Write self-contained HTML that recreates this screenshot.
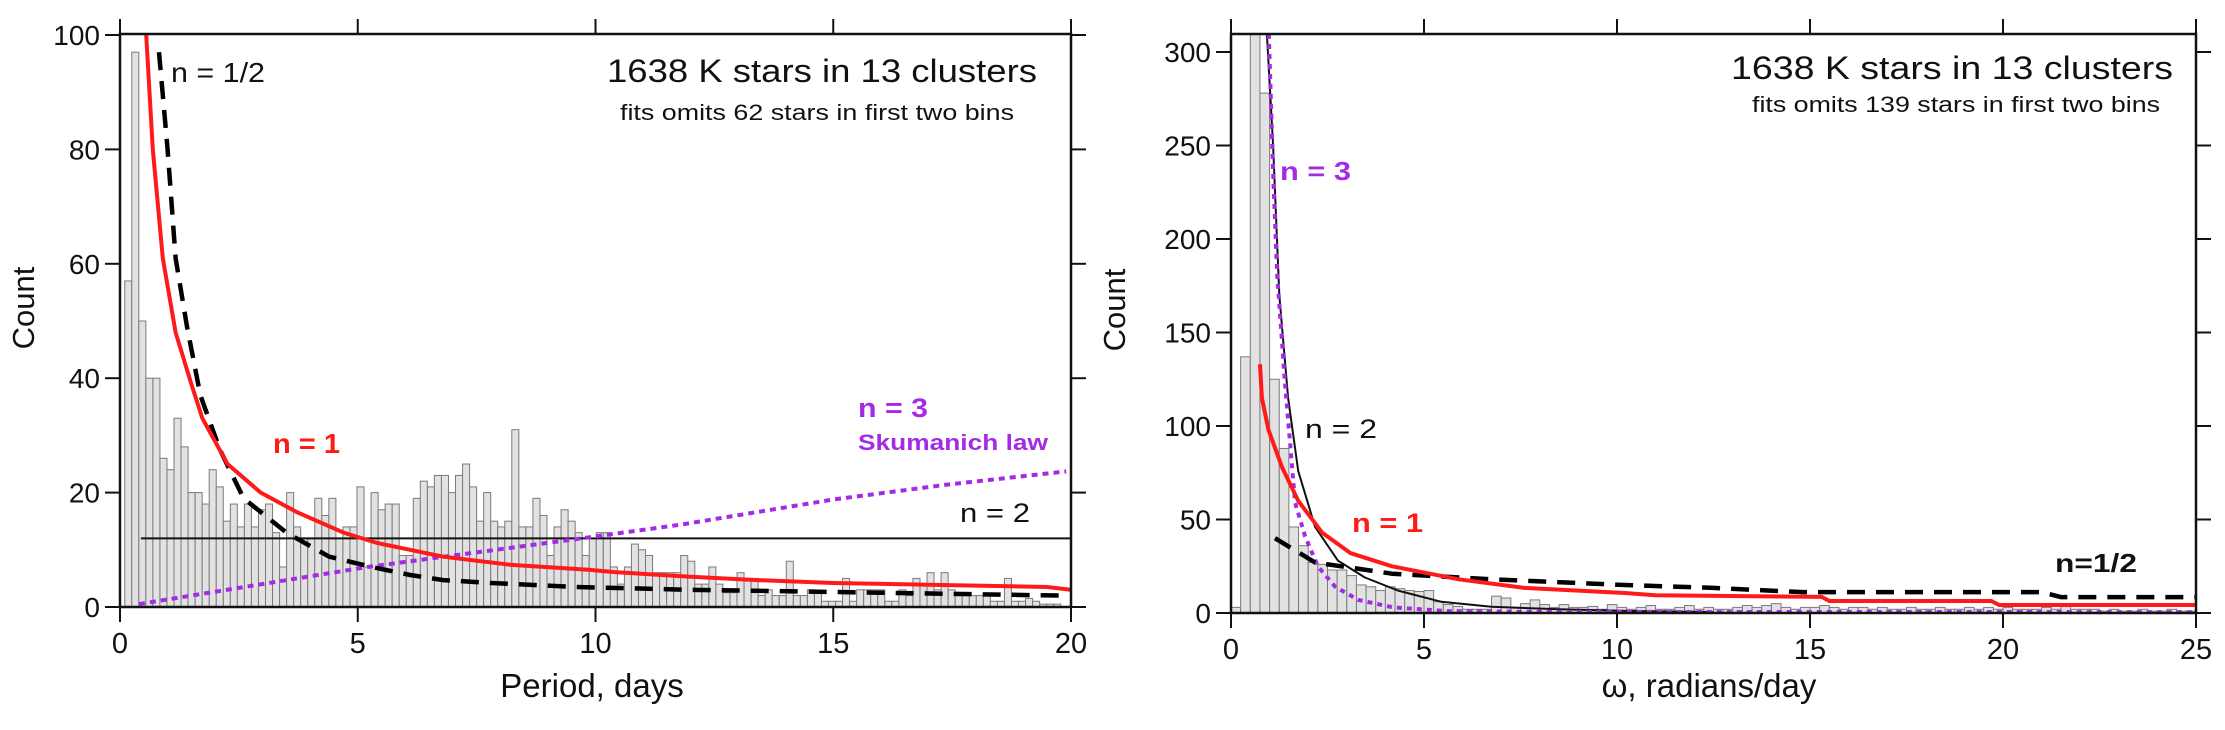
<!DOCTYPE html>
<html><head><meta charset="utf-8"><style>
html,body{margin:0;padding:0;background:#fff;}
svg{display:block;font-family:"Liberation Sans",Arial,sans-serif;}
</style></head><body>
<svg id="chart" width="2225" height="730" viewBox="0 0 2225 730" xmlns="http://www.w3.org/2000/svg">
<g id="left"></g>
<g id="right"></g>
</svg>
<script>
// ---------- LEFT PANEL DATA ----------
const leftBinStart = 0.1;
const leftBinWidth = 0.148;
const leftCounts = [57,97,50,40,40,26,24,33,28,20,20,18,24,21,15,18,14,18,14,17,18,13,7,20,14,12,12,19,16,19,12,14,14,21,7,20,17,18,18,9,9,19,22,21,23,23,20,23,25,21,15,20,15,14,15,31,14,14,19,16,9,14,17,15,13,9,
12,13,13,7,4,7,11,10,9,6,6,6,6,9,8,4,4,7,4,2.5,2.5,6,5,5,2,3,2,2,8,2,2,3,2.5,1,1,1,5,1,3,3,3,3,1,1,3,2,5,4,6,3,6,3,2,2,2,2,2,1,1,5,1,1,1.5,1,0.5,0.5,0.5];
const leftN1 = [[0.55,100],[0.69,80],[0.9,61],[1.17,48],[1.5,39],[1.73,33],[2.26,25],[2.96,20],[3.74,16.5],[4.7,13],[5.4,11.2],[6.8,8.8],[8.2,7.4],[9.85,6.5],[10.4,6.1],[12,5.3],[13.4,4.7],[15,4.2],[17,3.9],[19.5,3.5],[20,3]];
const leftNhalf = [[0.82,97],[1.0,80],[1.17,61],[1.41,49],[1.69,37],[2.1,27.5],[2.6,19],[3.5,13],[4.4,8.8],[5.3,7],[6.1,5.6],[6.8,4.7],[7.8,4.2],[9.6,3.5],[12,3],[16,2.5],[19.8,2]];
const leftN3 = [[0.4,0.5],[5.2,7],[9.7,12],[11.8,14.4],[15,18.8],[17.4,21.4],[19.9,23.7]];
const leftN2 = [[0.44,12],[20,12]];
const leftXTicks = [0,5,10,15,20];
const leftYTicks = [0,20,40,60,80,100];

// ---------- RIGHT PANEL DATA ----------
const rightBinStart = 0;
const rightBinWidth = 0.25;
const rightCounts = [3,137,310,278,125,88,46,36,27,26,23,23,20,15,14,12,14,13,12,11.5,12,6,4.5,3.5,2,2,2,9,8,3,5,7,4.5,3,4.5,3,3,3.5,2,4.5,
3,2,3,4,2,2,3,4,2,3,2,2,3,4,3,4,5,3,2,3,3,4,3,2,3,3,2,3,2,2,3,2,2,3,2,2,3,2,3,2,3,2,2,2,3,2,4,2,2,2,1,2,1,1,2,1,1,2,1,1];
const rightN1 = [[0.75,133],[0.8,115],[0.97,98],[1.32,78],[1.74,60],[2.36,43],[3.1,32],[4.17,25],[5.9,18],[7.6,13.4],[10.2,10.7],[11,9.5],[15.3,8.6],[15.5,6.4],[19.7,6.4],[19.9,4.3],[25,4.3]];
const rightN2 = [[0.93,310],[1.09,250],[1.25,170],[1.48,115],[1.74,76],[2.18,46],[2.77,28],[3.47,19],[4.33,12],[5.45,6],[6.75,3.3],[8.5,2],[10.5,1],[12.5,0.5]];
const rightN3 = [[0.98,310],[1.1,230],[1.2,180],[1.39,125],[1.66,59],[1.92,41],[2.25,25],[2.7,14],[3.3,7],[4.2,3],[5.6,1],[8,0.6],[25,0.5]];
const rightNhalf = [[1.14,40],[2.18,27],[4.17,21],[6.75,18],[10.2,15],[12.5,13.4],[14.8,11.2],[21,11.2],[21.5,8.5],[25,8.5]];
const rightXTicks = [0,5,10,15,20,25];
const rightYTicks = [0,50,100,150,200,250,300];

const NS = "http://www.w3.org/2000/svg";
function mk(parent, tag, attrs, text){
  const e = document.createElementNS(NS, tag);
  for (const k in attrs) e.setAttribute(k, attrs[k]);
  if (text !== undefined) e.textContent = text;
  parent.appendChild(e);
  return e;
}

function panel(g, P){
  const sx = v => P.x0 + (v - P.xmin) * (P.x1 - P.x0) / (P.xmax - P.xmin);
  const sy = v => P.y0 - v * P.ky;
  // bars
  const barsG = mk(g, 'g', {});
  
  
  P.counts.forEach((c, i) => {
    const a = P.binStart + i * P.binWidth;
    const x = sx(a), w = sx(a + P.binWidth) - x;
    const top = Math.max(sy(c), P.yTop);
    const r = mk(barsG, 'rect', {x: x, y: top, width: w, height: P.y0 - top, fill: '#e2e2e2', stroke: '#7a7a7a', 'stroke-width': 1});
    
    
  });
  // curves
  P.curves.forEach(cv => {
    const d = cv.pts.map((p, i) => (i ? 'L' : 'M') + sx(p[0]).toFixed(1) + ' ' + Math.max(sy(p[1]), P.yTop).toFixed(1)).join(' ');
    const attrs = {d: d, fill: 'none', stroke: cv.color, 'stroke-width': cv.w, 'stroke-linejoin': 'round'};
    if (cv.dash) attrs['stroke-dasharray'] = cv.dash;
    const p = mk(g, 'path', attrs);
    
    
  });
  // frame
  const fr = mk(g, 'rect', {x: P.x0, y: P.yTop, width: P.x1 - P.x0, height: P.y0 - P.yTop, fill: 'none', stroke: '#111', 'stroke-width': 2.5});
  
  
  // x ticks
  P.xTicks.forEach(t => {
    const x = sx(t);
    const t1 = mk(g, 'line', {x1: x, y1: P.y0, x2: x, y2: P.y0 + 15, stroke: '#111', 'stroke-width': 2});
    
    
    const t2 = mk(g, 'line', {x1: x, y1: P.yTop, x2: x, y2: P.yTop - 15, stroke: '#111', 'stroke-width': 2});
    
    
    const lb = mk(g, 'text', {x: x, y: P.y0 + 46, 'text-anchor': 'middle', 'font-size': 29, fill: '#111'}, String(t));
    
    
  });
  // y ticks
  P.yTicks.forEach(t => {
    const y = sy(t);
    const t1 = mk(g, 'line', {x1: P.x0 - 15, y1: y, x2: P.x0, y2: y, stroke: '#111', 'stroke-width': 2});
    
    
    const t2 = mk(g, 'line', {x1: P.x1, y1: y, x2: P.x1 + 15, y2: y, stroke: '#111', 'stroke-width': 2});
    
    
    const lb = mk(g, 'text', {x: P.x0 - 20, y: y + 10, 'text-anchor': 'end', 'font-size': 28, fill: '#111'}, String(t));
    
    
  });
  // axis titles
  const xt = mk(g, 'text', {x: P.xTitleX, y: 697, 'text-anchor': 'middle', 'font-size': 33, fill: '#111'}, P.xTitle);
  
  
  const yt = mk(g, 'text', {x: 0, y: 0, 'text-anchor': 'middle', 'font-size': 31, fill: '#111', transform: 'translate(' + P.yTitleX + ',' + P.yTitleY + ') rotate(-90)'}, 'Count');
  
  
  // labels
  P.labels.forEach(L => {
    const attrs = {x: L.x, y: L.y, 'font-size': L.fs, fill: L.c, 'font-weight': L.b ? 'bold' : 'normal'};
    if (L.len) { attrs.textLength = L.len; attrs.lengthAdjust = 'spacingAndGlyphs'; }
    const t = mk(g, 'text', attrs, L.t);
    
    
  });
}

const RED = '#ff1a1a', PUR = '#a52ae6';
panel(document.getElementById('left'), {
  x0: 120, x1: 1071, xmin: 0, xmax: 20, y0: 607, ky: 5.72, yTop: 34,
  counts: leftCounts, binStart: leftBinStart, binWidth: leftBinWidth,
  xTicks: leftXTicks, yTicks: leftYTicks,
  xTitle: 'Period, days', xTitleX: 592, yTitleX: 34, yTitleY: 308,
  curves: [
    {pts: leftN2, color: '#111', w: 2, name: 'n2-fit-line'},
    {pts: leftN3, color: PUR, w: 4, dash: '6 5', name: 'n3-skumanich-fit-line'},
    {pts: leftNhalf, color: '#000', w: 4.5, dash: '18 11', name: 'n-half-fit-line'},
    {pts: leftN1, color: RED, w: 4, name: 'n1-fit-line'}
  ],
  labels: [
    {t: '1638 K stars in 13 clusters', x: 607, y: 82, fs: 32, c: '#111', len: 430, name: 'panel-title'},
    {t: 'fits omits  62 stars in first two bins', x: 620, y: 120, fs: 22, c: '#111', len: 394, name: 'panel-subtitle'},
    {t: 'n = 1/2', x: 171, y: 82, fs: 28, c: '#111', len: 94, name: 'n-half-label'},
    {t: 'n = 1', x: 273, y: 453, fs: 28, c: RED, b: true, len: 67, name: 'n1-label'},
    {t: 'n = 3', x: 858, y: 417, fs: 27, c: PUR, b: true, len: 70, name: 'n3-label'},
    {t: 'Skumanich law', x: 858, y: 450, fs: 22, c: PUR, b: true, len: 190, name: 'skumanich-label'},
    {t: 'n = 2', x: 960, y: 522, fs: 27, c: '#111', len: 70, name: 'n2-label'}
  ]
});
panel(document.getElementById('right'), {
  x0: 1231, x1: 2196, xmin: 0, xmax: 25, y0: 613, ky: 1.87, yTop: 34,
  counts: rightCounts, binStart: rightBinStart, binWidth: rightBinWidth,
  xTicks: rightXTicks, yTicks: rightYTicks,
  xTitle: 'ω, radians/day', xTitleX: 1709, yTitleX: 1125, yTitleY: 310,
  curves: [
    {pts: rightN2, color: '#111', w: 2, name: 'n2-fit-line'},
    {pts: rightN3, color: PUR, w: 4, dash: '5 5', name: 'n3-fit-line'},
    {pts: rightNhalf, color: '#000', w: 4.5, dash: '18 11', name: 'n-half-fit-line'},
    {pts: rightN1, color: RED, w: 4, name: 'n1-fit-line'}
  ],
  labels: [
    {t: '1638 K stars in 13 clusters', x: 1731, y: 79, fs: 32, c: '#111', len: 442, name: 'panel-title'},
    {t: 'fits omits 139 stars in first two bins', x: 1752, y: 112, fs: 22, c: '#111', len: 408, name: 'panel-subtitle'},
    {t: 'n = 3', x: 1280, y: 180, fs: 26, c: PUR, b: true, len: 71, name: 'n3-label'},
    {t: 'n = 2', x: 1305, y: 438, fs: 27, c: '#111', len: 72, name: 'n2-label'},
    {t: 'n = 1', x: 1352, y: 532, fs: 27, c: RED, b: true, len: 71, name: 'n1-label'},
    {t: 'n=1/2', x: 2055, y: 572, fs: 26, c: '#111', b: true, len: 82, name: 'n-half-label'}
  ]
});
</script>
</body></html>
